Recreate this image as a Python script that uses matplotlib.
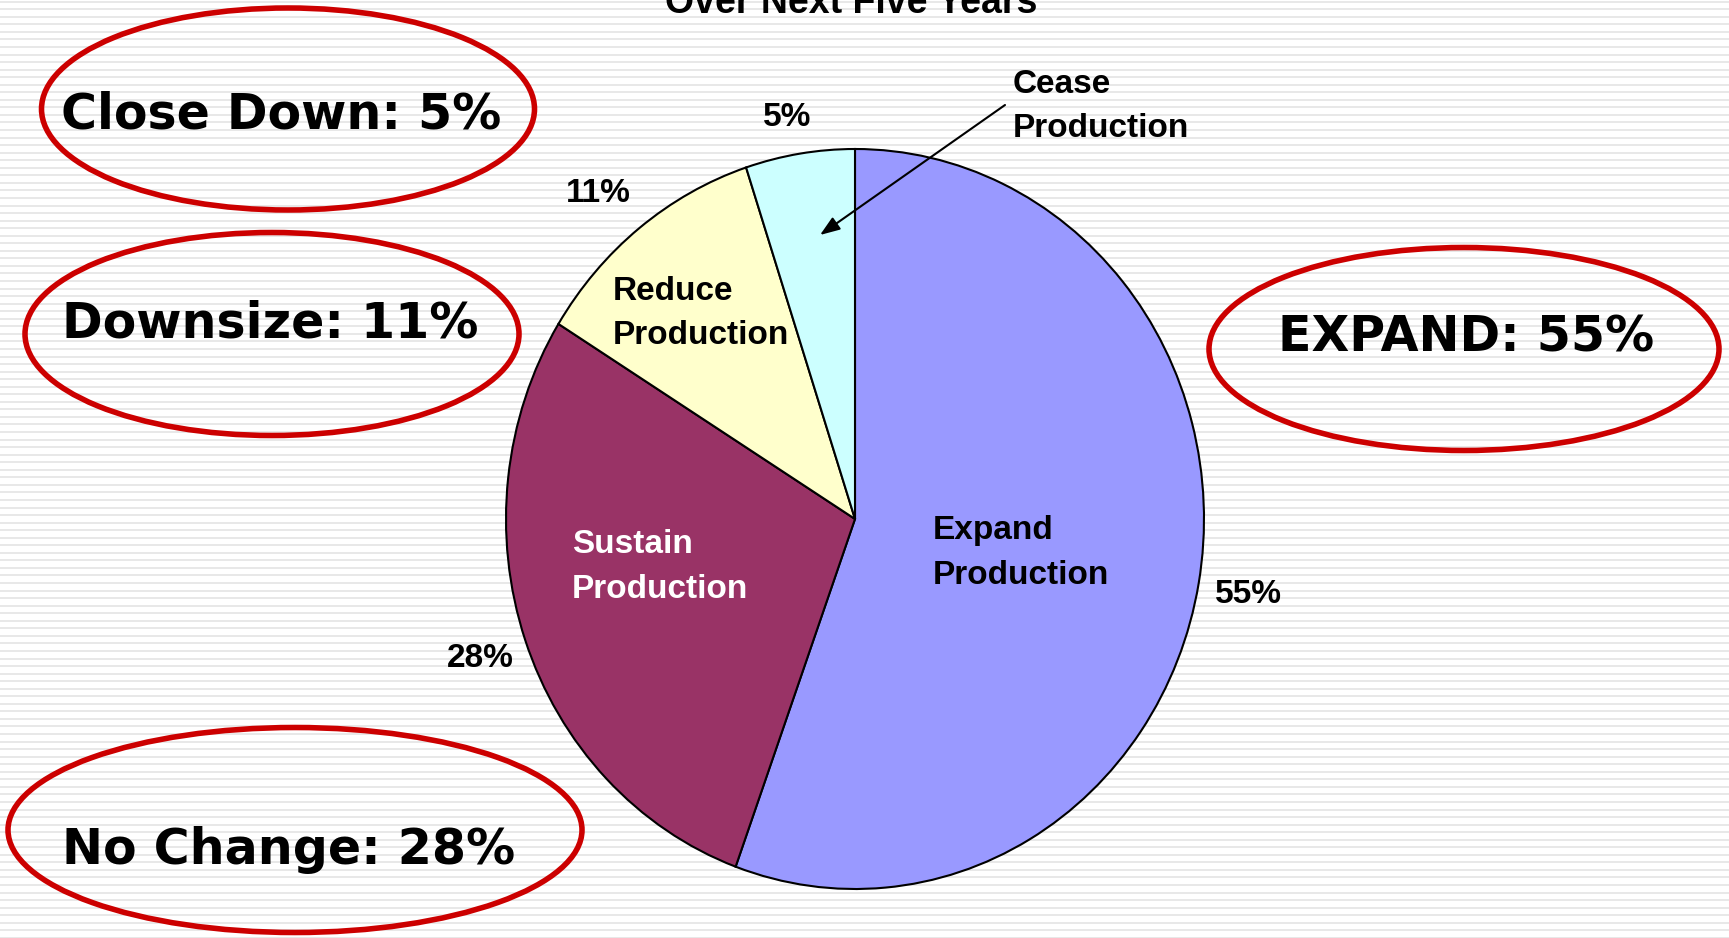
import numpy as np
import matplotlib
matplotlib.use("Agg")
import matplotlib.pyplot as plt
from matplotlib.patches import Ellipse

# ---- data ----
categories = ["Expand\nProduction", "Sustain\nProduction", "Reduce\nProduction", "Cease\nProduction"]
values = [55, 28, 11, 5]
colors = ["#9999FF", "#993366", "#FFFFCC", "#CCFFFF"]
label_colors = ["black", "white", "black", "black"]
summary_names = ["EXPAND", "No Change", "Downsize", "Close Down"]
title = "Over Next Five Years"

W, H = 1729, 938
fig = plt.figure(figsize=(W / 100, H / 100), dpi=100)
fig.patch.set_facecolor("white")

# background axes in pixel coordinates (y downward)
bg = fig.add_axes([0, 0, 1, 1])
bg.set_xlim(0, W)
bg.set_ylim(H, 0)
bg.axis("off")
for y in np.arange(1.7, H, 7.55):
    bg.axhline(y, color="#e2e2e2", lw=1.1, zorder=0)

# pie (slightly elliptical, as in the reference)
cx, cy, rx, ry = 855, 519, 349, 370
ax = fig.add_axes([(cx - rx) / W, 1 - (cy + ry) / H, 2 * rx / W, 2 * ry / H])
wedges, _ = ax.pie(values, colors=colors, startangle=90, counterclock=False,
                   wedgeprops=dict(edgecolor="black", linewidth=1.5))
ax.set_aspect("auto")
ax.set_xlim(-1, 1)
ax.set_ylim(-1, 1)
ax.axis("off")
for w in wedges:
    w.set_clip_on(False)

# overlay axes for texts / arrow (above the pie)
fg = fig.add_axes([0, 0, 1, 1])
fg.set_xlim(0, W)
fg.set_ylim(H, 0)
fg.axis("off")
fg.patch.set_alpha(0)

lab_font = dict(family="Liberation Sans", weight="bold", fontsize=24)
big_font = dict(family="DejaVu Sans", weight="bold", fontsize=35.3)

# category labels (two lines each)
cat_pos = [(933, 539.3), (572, 553.3), (613, 300), (1013, 92.7)]
line_gap = 44.5
for name, (x, yb), col in zip(categories, cat_pos, label_colors):
    for i, line in enumerate(name.split("\n")):
        fg.text(x, yb + i * line_gap, line, color=col, ha="left", va="baseline",
                zorder=5, **lab_font)

# percent labels
pct_pos = [(1215, 603), (447, 667), (566, 202), (763, 126)]
for v, (x, yb) in zip(values, pct_pos):
    fg.text(x, yb, f"{v}%", ha="left", va="baseline", zorder=5, **lab_font)

# arrow to the Cease slice
fg.annotate("", xy=(820, 235), xytext=(1005, 105),
            arrowprops=dict(arrowstyle="-|>,head_length=0.6,head_width=0.22",
                            color="black", lw=1.5, mutation_scale=20,
                            shrinkA=0, shrinkB=0), zorder=6)

# red ellipses with summary text
ell = [(1464, 349, 510, 203), (295, 830, 574, 205), (272, 334, 494, 203), (288, 109, 493, 202)]
txt_pos = [(1278, 351.7), (62, 864.5), (62, 337), (61, 128.5)]
for name, v, (ex, ey, ew, eh), (tx, ty) in zip(summary_names, values, ell, txt_pos):
    fg.add_patch(Ellipse((ex, ey), ew, eh, fill=False, edgecolor="#CC0000", lw=4.0, zorder=3))
    fg.text(tx, ty, f"{name}: {v}%", ha="left", va="baseline", zorder=5, **big_font)

# title (partly cut off at the top, as in the reference)
fg.text(851, 13, title, ha="center", va="baseline", family="Liberation Sans",
        weight="bold", fontsize=27, zorder=5)

fig.savefig("out.png", dpi=100)
